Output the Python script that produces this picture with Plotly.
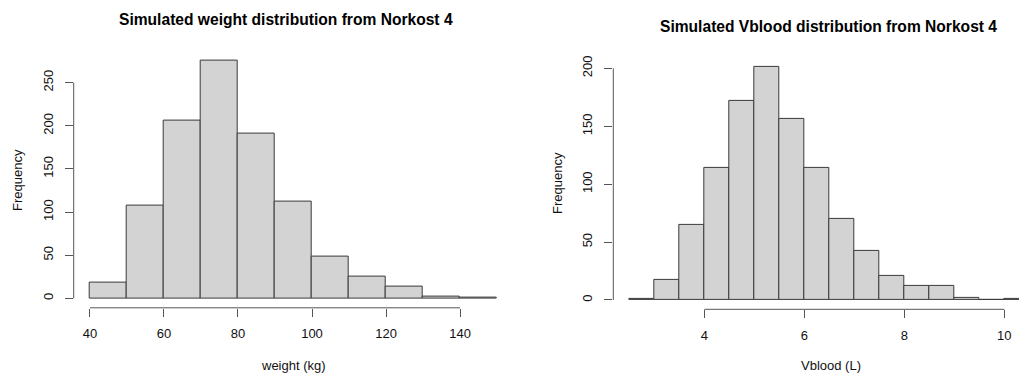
import plotly.graph_objects as go

# Histogram counts (bin edges given by start + width)
weight_start, weight_width = 40, 10
weight_counts = [18, 108, 206, 275, 191, 112, 48, 25, 14, 2, 1]

vblood_start, vblood_width = 2.5, 0.5
vblood_counts = [1, 17, 65, 114, 172, 201, 156, 114, 70, 42, 21, 12, 12, 2, 0, 1]

weight_ticks = [40, 60, 80, 100, 120, 140]
weight_yticks = [0, 50, 100, 150, 200, 250]
vblood_ticks = [4, 6, 8, 10]
vblood_yticks = [0, 50, 100, 150, 200]

W, H = 1019, 374
FONT = "Liberation Sans, Arial, sans-serif"
FILL = "#d3d3d3"
EDGE = "#3a3a3a"
AXIS = "#555555"


def centers(start, width, n):
    return [start + width * (i + 0.5) for i in range(n)]


fig = go.Figure()

fig.add_trace(go.Bar(
    x=centers(weight_start, weight_width, len(weight_counts)),
    y=weight_counts, width=weight_width,
    marker=dict(color=FILL, line=dict(color=EDGE, width=1)),
    xaxis="x", yaxis="y", showlegend=False, hoverinfo="x+y",
))
fig.add_trace(go.Bar(
    x=centers(vblood_start, vblood_width, len(vblood_counts)),
    y=vblood_counts, width=vblood_width,
    marker=dict(color=FILL, line=dict(color=EDGE, width=1)),
    xaxis="x2", yaxis="y2", showlegend=False, hoverinfo="x+y",
))

# R-style 4% padding around the data range
def padded(lo, hi):
    d = (hi - lo) * 0.04
    return [lo - d, hi + d]

wx = padded(weight_start, weight_start + weight_width * len(weight_counts))
wy = padded(0, max(weight_counts))
vx = padded(vblood_start, vblood_start + vblood_width * len(vblood_counts))
vy = padded(0, max(vblood_counts))

# left panel in pixels
L_left, L_right, L_top, L_bot = 73.7, 513.3, 51.6, 307.8
# right panel (its right edge runs past the page)
R_left, R_top, R_bot = 613.3, 57.9, 309.3
px_per_unit = 50.0
vx_visible = [vx[0], vx[0] + (W - R_left) / px_per_unit]

tick_font = dict(family=FONT, size=13, color="#111111")
common_x = dict(showgrid=False, zeroline=False, showline=False, ticks="outside",
                ticklen=8, tickcolor=AXIS, tickwidth=1, tickfont=tick_font,
                tickangle=0, ticklabelstandoff=6, automargin=False, fixedrange=True)
common_y = dict(showgrid=False, zeroline=False, showline=False, ticks="outside",
                ticklen=8, tickcolor=AXIS, tickwidth=1, tickfont=tick_font,
                tickangle=-90, ticklabelstandoff=7, automargin=False, fixedrange=True)

fig.update_layout(
    width=W, height=H, margin=dict(l=0, r=0, t=0, b=0),
    paper_bgcolor="white", plot_bgcolor="white",
    bargap=0, font=dict(family=FONT, color="#111111"),
    xaxis=dict(domain=[L_left / W, L_right / W], range=wx, anchor="y",
               tickvals=weight_ticks, **common_x),
    yaxis=dict(domain=[(H - L_bot) / H, (H - L_top) / H], range=wy, anchor="x",
               tickvals=weight_yticks, **common_y),
    xaxis2=dict(domain=[R_left / W, 1.0], range=vx_visible, anchor="y2",
                tickvals=vblood_ticks, **common_x),
    yaxis2=dict(domain=[(H - R_bot) / H, (H - R_top) / H], range=vy, anchor="x2",
                tickvals=vblood_yticks, **common_y),
)

# axis lines spanning only the tick range
line = dict(color=AXIS, width=1)
fig.add_shape(type="line", xref="x", yref="y domain", x0=weight_ticks[0], x1=weight_ticks[-1],
              y0=0, y1=0, line=line)
fig.add_shape(type="line", xref="x domain", yref="y", x0=0, x1=0,
              y0=weight_yticks[0], y1=weight_yticks[-1], line=line)
fig.add_shape(type="line", xref="x2", yref="y2 domain", x0=vblood_ticks[0], x1=vblood_ticks[-1],
              y0=0, y1=0, line=line)
fig.add_shape(type="line", xref="x2 domain", yref="y2", x0=0, x1=0,
              y0=vblood_yticks[0], y1=vblood_yticks[-1], line=line)

title_font = dict(family=FONT, size=15.6, color="#000000")
label_font = dict(family=FONT, size=13, color="#111111")


def note(text, x, y, font, angle=0, yanchor="middle"):
    fig.add_annotation(text=text, xref="paper", yref="paper", x=x / W, y=1 - y / H,
                       xanchor="center", yanchor=yanchor, showarrow=False,
                       font=font, textangle=angle, borderpad=0)


note("<b>Simulated weight distribution from Norkost 4</b>", 286, 20, title_font)
note("<b>Simulated Vblood distribution from Norkost 4</b>", 828, 26.5, title_font)
note("weight (kg)", 293.5, 373.5, label_font, yanchor="bottom")
note("Vblood (L)", 831, 373.5, label_font, yanchor="bottom")
note("Frequency", 18, 180, label_font, -90)
note("Frequency", 558, 183, label_font, -90)

fig.write_html("out.html")
